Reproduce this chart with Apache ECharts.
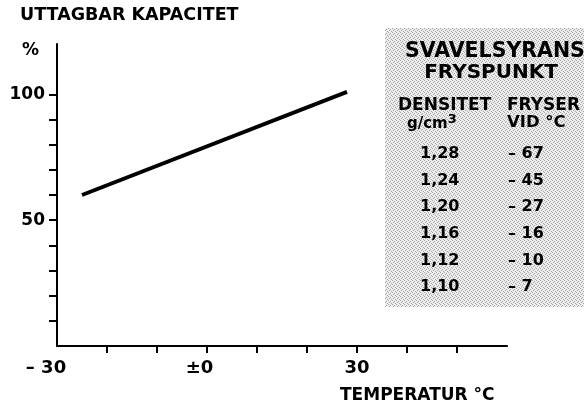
<!DOCTYPE html>
<html>
<head>
<meta charset="utf-8">
<script src="https://cdn.jsdelivr.net/npm/echarts@6/dist/echarts.min.js"></script>
<style>
html,body{margin:0;padding:0;background:#fff;}
#chart{width:584px;height:406px;}
</style>
</head>
<body>
<div id="chart"></div>
<script>
// Data
var temperatures = [-25, 28];            // °C
var capacities = [60, 101];              // %
var yTickValues = [10, 20, 30, 40, 50, 60, 70, 80, 90, 100];
var yLabelValues = [50, 100];
var xTickValues = [-20, -10, 0, 10, 20, 30, 40, 50];
var xLabelValues = [-30, 0, 30];
var densities = ['1,28', '1,24', '1,20', '1,16', '1,12', '1,10'];
var freezePoints = ['– 67', '– 45', '– 27', '– 16', '– 10', '– 7'];

var chart = echarts.init(document.getElementById('chart'), null, {renderer: 'canvas'});

// dotted halftone pattern for the table box
var pc = document.createElement('canvas');
pc.width = 4; pc.height = 4;
var pctx = pc.getContext('2d');
pctx.fillStyle = '#ececec';
pctx.fillRect(0, 0, 4, 4);
pctx.fillStyle = '#a8a8a8';
pctx.fillRect(0, 0, 1, 1);
pctx.fillRect(2, 1, 1, 1);
pctx.fillRect(1, 2, 1, 1);
pctx.fillRect(3, 3, 1, 1);

var F = '"DejaVu Sans", sans-serif';
var black = '#000';

var linePoints = temperatures.map(function (t, i) { return [t, capacities[i]]; });

var graphics = [
  {type: 'rect', shape: {x: 385, y: 28, width: 210, height: 279}, style: {fill: {image: pc, repeat: 'repeat'}}, z: 0},
  {type: 'text', x: 20, y: 15, style: {text: 'UTTAGBAR KAPACITET', font: 'bold 17.5px ' + F, fill: black, textVerticalAlign: 'middle'}},
  {type: 'text', x: 22, y: 51, style: {text: '%', font: 'bold 17px ' + F, fill: black, textVerticalAlign: 'middle'}},
  {type: 'text', x: 340, y: 396, style: {text: 'TEMPERATUR °C', font: 'bold 17px ' + F, fill: black, textVerticalAlign: 'middle'}},
  {type: 'text', x: 405, y: 52, style: {text: 'SVAVELSYRANS', font: 'bold 20.5px ' + F, fill: black, textVerticalAlign: 'middle'}, z: 5},
  {type: 'text', x: 491, y: 73, style: {text: 'FRYSPUNKT', font: 'bold 20px ' + F, fill: black, textAlign: 'center', textVerticalAlign: 'middle'}, z: 5},
  {type: 'text', x: 398, y: 106, style: {text: 'DENSITET', font: 'bold 17px ' + F, fill: black, textVerticalAlign: 'middle'}, z: 5},
  {type: 'text', x: 507, y: 106, style: {text: 'FRYSER', font: 'bold 17px ' + F, fill: black, textVerticalAlign: 'middle'}, z: 5},
  {type: 'text', x: 407, y: 124, style: {
    text: '{n|g/cm}{s|3}', fill: black, textVerticalAlign: 'middle',
    rich: {n: {font: 'bold 15px ' + F, fill: black}, s: {font: 'bold 13px ' + F, fill: black, padding: [0, 0, 9, 0]}}
  }, z: 5},
  {type: 'text', x: 507, y: 123, style: {text: 'VID °C', font: 'bold 16.5px ' + F, fill: black, textVerticalAlign: 'middle'}, z: 5}
];
densities.forEach(function (d, i) {
  var y = 154 + i * 26.6;
  graphics.push({type: 'text', x: 420, y: y, style: {text: d, font: 'bold 16px ' + F, fill: black, textVerticalAlign: 'middle'}, z: 5});
  graphics.push({type: 'text', x: 508, y: y, style: {text: freezePoints[i], font: 'bold 16px ' + F, fill: black, textVerticalAlign: 'middle'}, z: 5});
});

var option = {
  animation: false,
  backgroundColor: '#fff',
  grid: {left: 57, right: 77, top: 44, bottom: 60, containLabel: false},
  xAxis: {
    type: 'value', min: -30, max: 60, interval: 10,
    splitLine: {show: false},
    axisLine: {show: true, onZero: false, lineStyle: {color: black, width: 2}},
    axisTick: {show: true, length: 7, customValues: xTickValues, lineStyle: {color: black, width: 2}},
    axisLabel: {
      show: true, margin: 13, customValues: xLabelValues,
      formatter: function (v) {
        if (v === -30) return '{a|– 30}';
        if (v === 0) return '{b|±0}';
        if (v === 30) return '{c|30}';
        return '';
      },
      rich: {
        a: {fontFamily: F, fontWeight: 'bold', fontSize: 18, color: black, padding: [0, 22, 0, 0]},
        b: {fontFamily: F, fontWeight: 'bold', fontSize: 18, color: black, padding: [0, 15, 0, 0]},
        c: {fontFamily: F, fontWeight: 'bold', fontSize: 18, color: black}
      }
    }
  },
  yAxis: {
    type: 'value', min: 0, max: 120, interval: 10,
    splitLine: {show: false},
    axisLine: {show: true, onZero: false, lineStyle: {color: black, width: 2}},
    axisTick: {show: true, length: 8, customValues: yTickValues, lineStyle: {color: black, width: 2}},
    axisLabel: {show: true, margin: 12, customValues: yLabelValues, fontFamily: F, fontWeight: 'bold', fontSize: 17, color: black}
  },
  series: [{
    type: 'line',
    data: linePoints,
    symbol: 'none',
    lineStyle: {color: black, width: 4, cap: 'butt'},
    z: 3
  }],
  graphic: graphics
};
chart.setOption(option);
</script>
</body>
</html>
